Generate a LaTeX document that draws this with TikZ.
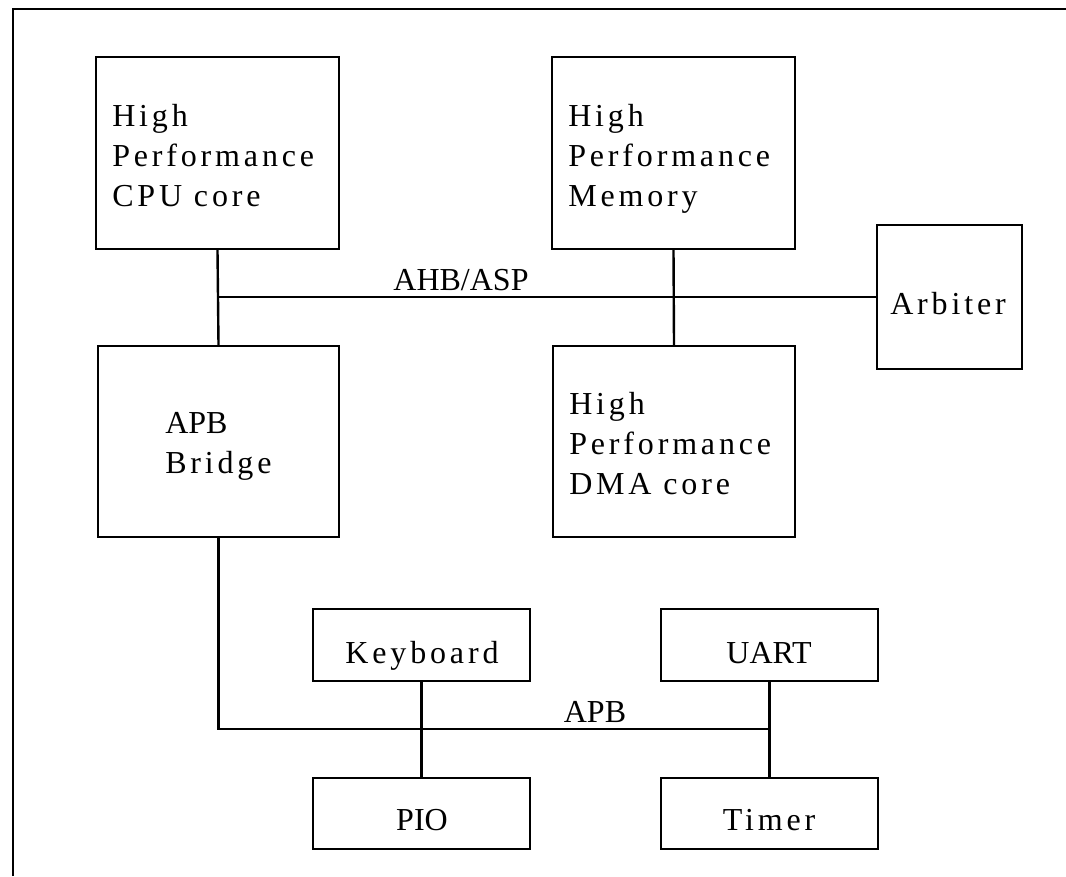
\documentclass[tikz,border=0pt]{standalone}
\usepackage{fontspec}
\setmainfont{Liberation Serif}
\newfontfamily\spacedfont[LetterSpace=12]{Liberation Serif}
\usetikzlibrary{fit}
\begin{document}
\begin{tikzpicture}[x=0.75pt,y=-0.75pt,
  box/.style={draw=black,line width=1.8pt,inner sep=0pt,fill=none},
  bus/.style={draw=black,line width=1.8pt},
  frame/.style={draw=black,line width=2.2pt},
  txt/.style={inner sep=0pt,font=\fontsize{24pt}{30pt}\spacedfont},
  caps/.style={inner sep=0pt,font=\fontsize{24pt}{30pt}\selectfont},
  ]
\useasboundingbox (0,0) rectangle (1066,876);
% outer frame (only top and left visible)
\coordinate (fbl) at (13,876);
\coordinate (ftl) at (13,9);
\coordinate (ftr) at (1066,9);
\draw[frame] (fbl) -- (ftl) -- (ftr);

% boxes
\node[box,fit={(96,57) (339,249)}] (cpu) {};
\node[box,fit={(552,57) (795,249)}] (mem) {};
\node[box,fit={(877,225) (1022,369)}] (arb) {};
\node[box,fit={(98,346) (339,537)}] (bridge) {};
\node[box,fit={(553,346) (795,537)}] (dma) {};
\node[box,fit={(313,609) (530,681)}] (kbd) {};
\node[box,fit={(661,609) (878,681)}] (uart) {};
\node[box,fit={(313,778) (530,849)}] (pio) {};
\node[box,fit={(661,778) (878,849)}] (timer) {};

% box texts
\node[txt,anchor=base west] (cpu1) at (112,126) {High};
\node[txt,anchor=base west] (cpu2) at (112,166) {Performance};
\node[txt,anchor=base west] (cpu3) at (112,206) {CPU core};
\node[txt,anchor=base west] (mem1) at (568,126) {High};
\node[txt,anchor=base west] (mem2) at (568,166) {Performance};
\node[txt,anchor=base west] (mem3) at (568,206) {Memory};
\node[txt,anchor=base west] (dma1) at (569,414) {High};
\node[txt,anchor=base west] (dma2) at (569,454) {Performance};
\node[txt,anchor=base west] (dma3) at (569,494) {DMA core};
\node[caps,anchor=base west] (br1) at (165,433) {APB};
\node[txt,anchor=base west] (br2) at (165,473) {Bridge};
\node[txt,anchor=base] (arbt) at (948,314) {Arbiter};
\node[txt,anchor=base] (kbdt) at (422,663) {Keyboard};
\node[caps,anchor=base] (uartt) at (769,663) {UART};
\node[caps,anchor=base] (piot) at (422,830) {PIO};
\node[txt,anchor=base] (timert) at (769,830) {Timer};

% AHB bus
\coordinate (ahbL) at (cpu.south |- arb.west);
\draw[bus] (cpu.south) -- (bridge.north);
\draw[bus] (ahbL) -- (arb.west);
\draw[bus] (mem.south) -- (dma.north);
\node[caps,anchor=base] (ahbt) at (461,290) {AHB/ASP};

% APB bus
\coordinate (apbC) at (bridge.south |- 0,729);
\coordinate (apbR) at (uart.south |- 0,729);
\draw[bus] (bridge.south) -- (apbC) -- (apbR);
\draw[bus] (kbd.south) -- (pio.north);
\draw[bus] (uart.south) -- (timer.north);
\node[caps,anchor=base] (apbt) at (595,722) {APB};
\end{tikzpicture}
\end{document}
